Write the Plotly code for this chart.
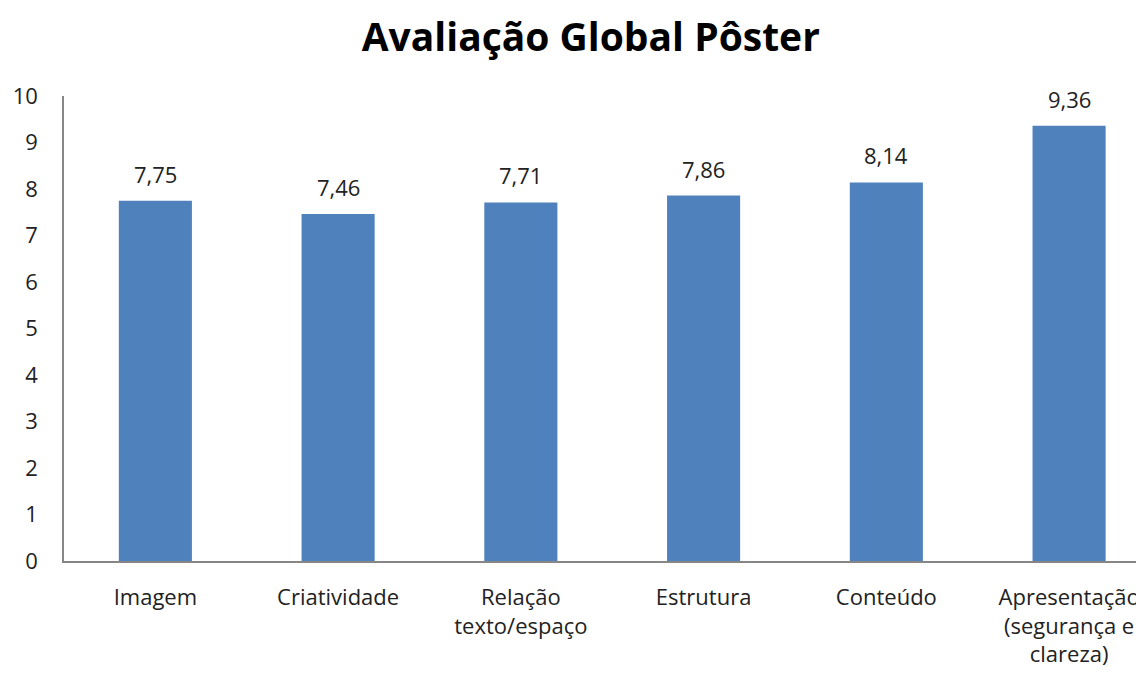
import plotly.graph_objects as go

categorias = ['Imagem', 'Criatividade', 'Relação<br>texto/espaço', 'Estrutura',
              'Conteúdo', 'Apresentação<br>(segurança e<br>clareza)']
notas = [7.75, 7.46, 7.71, 7.86, 8.14, 9.36]
rotulos = ['7,75', '7,46', '7,71', '7,86', '8,14', '9,36']
y_ticks = list(range(0, 11))

fnt = 'Open Sans, Noto Sans, sans-serif'
posicoes = list(range(len(categorias)))

fig = go.Figure()
fig.add_trace(go.Bar(x=posicoes, y=notas, marker_color='#4F81BD', width=0.4,
                     marker_line_width=0))

# rótulos de dados acima das barras
for xi, yi, txt in zip(posicoes, notas, rotulos):
    fig.add_annotation(x=xi, y=yi, text=txt, showarrow=False, yanchor='bottom',
                       yshift=10, font=dict(size=22, color='#222222', family=fnt))

# a página tem 8px de margem no body, por isso 1136x665
fig.update_layout(
    title=dict(text='<b>Avaliação Global Pôster</b>', xref='container', x=0.513,
               xanchor='center', y=0.956, yanchor='middle',
               font=dict(size=39, color='black', family=fnt)),
    width=1136, height=665,
    margin=dict(l=56, r=0, t=88, b=112),
    plot_bgcolor='white', paper_bgcolor='white',
    showlegend=False,
    font=dict(family=fnt, size=22, color='#222222'),
)
fig.update_xaxes(range=[-0.5, 5.41], tickvals=posicoes,
                 ticktext=categorias, showgrid=False, showline=True,
                 linecolor='#868686', linewidth=1.5, ticks='', zeroline=False,
                 tickfont=dict(size=22), ticklabelstandoff=16, automargin=False)
fig.update_yaxes(range=[0, 10], tickvals=y_ticks, showgrid=False, showline=True,
                 linecolor='#868686', linewidth=1.5, ticks='', zeroline=False,
                 tickfont=dict(size=22), ticklabelstandoff=20, automargin=False)

fig.write_html('out.html')
